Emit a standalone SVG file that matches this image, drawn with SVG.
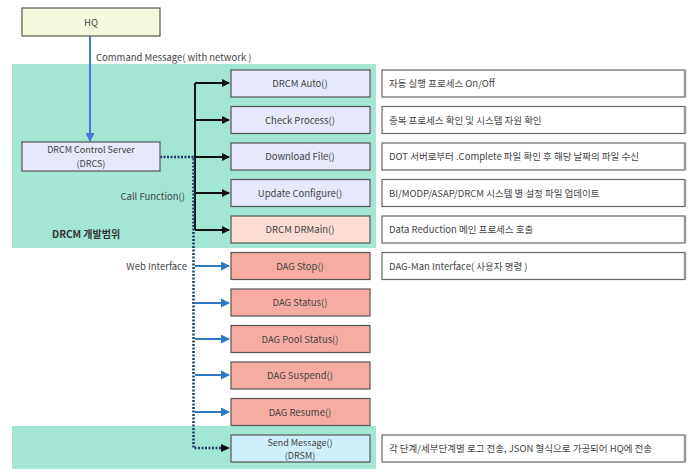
<svg xmlns="http://www.w3.org/2000/svg" width="695" height="472" viewBox="0 0 695 472">
<defs>
<style>
text{font-family:"Noto Sans CJK KR","Noto Sans",sans-serif;font-size:9.5px;fill:#444}
.c{text-anchor:middle}
.r{text-anchor:end}
.s{font-size:9px}
.box{stroke:#555;stroke-width:1.2}
.fn{fill:#e6e8fb}
.dag{fill:#f7aca1}
.desc{fill:#fff;stroke:#666;stroke-width:1.2}
.descR{stroke:#999;stroke-width:2.5}
.blk{stroke:#111;stroke-width:2;fill:none}
.blu{stroke:#2e7bc4;stroke-width:2;fill:none}
.dot{stroke:#1f3a66;stroke-width:2.5;stroke-dasharray:2 1.5;fill:none}
</style>
<marker id="ab" markerWidth="8" markerHeight="8" refX="7" refY="4" orient="auto" markerUnits="userSpaceOnUse"><path d="M0,0 L8,4 L0,8 z" fill="#111"/></marker>
<marker id="au" markerWidth="9" markerHeight="9" refX="8" refY="4.5" orient="auto" markerUnits="userSpaceOnUse"><path d="M0,0 L9,4.5 L0,9 z" fill="#2e7bc4"/></marker>
<marker id="ah" markerWidth="9" markerHeight="9" refX="8" refY="4.5" orient="auto" markerUnits="userSpaceOnUse"><path d="M0,0 L9,4.5 L0,9 z" fill="#4a78d6"/></marker>
</defs>
<rect width="695" height="472" fill="#fff"/>
<g id="region-dev"><rect x="12" y="64" width="364" height="184" fill="#a2e6d3"/><text x="52" y="238" style="font-weight:bold;font-size:10px;fill:#333">DRCM 개발범위</text></g>
<g id="region-send"><rect x="12" y="426" width="364" height="43" fill="#a2e6d3"/></g>
<g id="connectors">
<line x1="90" y1="36" x2="90" y2="141" stroke="#4a78d6" stroke-width="2" marker-end="url(#ah)"/>
<text x="96" y="61">Command Message( with network )</text>
<line class="blk" x1="195" y1="83" x2="195" y2="230"/>
<line class="blk" x1="195" y1="83" x2="229" y2="83" marker-end="url(#ab)"/>
<line class="blk" x1="195" y1="120" x2="229" y2="120" marker-end="url(#ab)"/>
<line class="blk" x1="195" y1="157" x2="229" y2="157" marker-end="url(#ab)"/>
<line class="blk" x1="195" y1="193" x2="229" y2="193" marker-end="url(#ab)"/>
<line class="blk" x1="195" y1="230" x2="229" y2="230" marker-end="url(#ab)"/>
<line class="blu" x1="195" y1="266" x2="229" y2="266" marker-end="url(#au)"/>
<line class="blu" x1="195" y1="303" x2="229" y2="303" marker-end="url(#au)"/>
<line class="blu" x1="195" y1="339" x2="229" y2="339" marker-end="url(#au)"/>
<line class="blu" x1="195" y1="375" x2="229" y2="375" marker-end="url(#au)"/>
<line class="blu" x1="195" y1="412" x2="229" y2="412" marker-end="url(#au)"/>
<polyline class="dot" points="160,157 193.5,157 193.5,448 222,448"/>
<path d="M221,444 L230,448 L221,452 z" fill="#111"/>
<text class="r" x="185" y="200">Call Function()</text>
<text class="r" x="187" y="270">Web Interface</text>
</g>
<g id="hq"><rect class="box" x="22" y="8" width="138" height="28" fill="#f6fadc"/><text class="c" x="91" y="25.5">HQ</text></g>
<g id="drcs"><rect class="box" x="22" y="142" width="138" height="29" fill="#e6e8fb"/><text class="c s" x="91" y="153">DRCM Control Server</text><text class="c s" x="91" y="166.5">(DRCS)</text></g>
<g id="auto"><rect class="box fn" x="231" y="70" width="139" height="27"/><text class="c" x="300" y="87">DRCM Auto()</text></g>
<g id="check"><rect class="box fn" x="231" y="106.5" width="139" height="27"/><text class="c" x="300" y="123.5">Check Process()</text></g>
<g id="download"><rect class="box fn" x="231" y="143" width="139" height="27"/><text class="c" x="300" y="160">Download File()</text></g>
<g id="update"><rect class="box fn" x="231" y="179.5" width="139" height="27"/><text class="c" x="300" y="196.5">Update Configure()</text></g>
<g id="drmain"><rect class="box" x="231" y="216" width="139" height="27" fill="#fcdcd3"/><text class="c" x="300" y="233">DRCM DRMain()</text></g>
<g id="dagstop"><rect class="box dag" x="231" y="252.5" width="139" height="27"/><text class="c" x="300" y="269.5">DAG Stop()</text></g>
<g id="dagstatus"><rect class="box dag" x="231" y="289" width="139" height="27"/><text class="c" x="300" y="306">DAG Status()</text></g>
<g id="dagpool"><rect class="box dag" x="231" y="325.5" width="139" height="27"/><text class="c" x="300" y="342.5">DAG Pool Status()</text></g>
<g id="dagsuspend"><rect class="box dag" x="231" y="362" width="139" height="27"/><text class="c" x="300" y="379">DAG Suspend()</text></g>
<g id="dagresume"><rect class="box dag" x="231" y="398.5" width="139" height="27"/><text class="c" x="300" y="415.5">DAG Resume()</text></g>
<g id="sendmsg"><rect class="box" x="231" y="435" width="139" height="27" fill="#cdf0fc"/><text class="c s" x="300" y="445.5">Send Message()</text><text class="c s" x="300" y="459">(DRSM)</text></g>
<g id="d1"><rect class="desc" x="382" y="70" width="303" height="27"/><line class="descR" x1="685" y1="70" x2="685" y2="97"/><text x="389" y="87">자동 실행 프로세스 On/Off</text></g>
<g id="d2"><rect class="desc" x="382" y="106.5" width="303" height="27"/><line class="descR" x1="685" y1="106.5" x2="685" y2="133.5"/><text x="389" y="123.5">중복 프로세스 확인 및 시스템 자원 확인</text></g>
<g id="d3"><rect class="desc" x="382" y="143" width="303" height="27"/><line class="descR" x1="685" y1="143" x2="685" y2="170"/><text x="389" y="160">DOT 서버로부터 .Complete 파일 확인 후 해당 날짜의 파일 수신</text></g>
<g id="d4"><rect class="desc" x="382" y="179.5" width="303" height="27"/><line class="descR" x1="685" y1="179.5" x2="685" y2="206.5"/><text x="389" y="196.5">BI/MODP/ASAP/DRCM 시스템 별 설정 파일 업데이트</text></g>
<g id="d5"><rect class="desc" x="382" y="216" width="303" height="27"/><line class="descR" x1="685" y1="216" x2="685" y2="243"/><text x="389" y="233">Data Reduction 메인 프로세스 호출</text></g>
<g id="d6"><rect class="desc" x="382" y="252.5" width="303" height="27"/><line class="descR" x1="685" y1="252.5" x2="685" y2="279.5"/><text x="389" y="269.5">DAG-Man Interface( 사용자 명령 )</text></g>
<g id="d7"><rect class="desc" x="382" y="435" width="303" height="27"/><line class="descR" x1="685" y1="435" x2="685" y2="462"/><text x="389" y="452">각 단계/세부단계별 로그 전송, JSON 형식으로 가공되어 HQ에 전송</text></g>
</svg>
